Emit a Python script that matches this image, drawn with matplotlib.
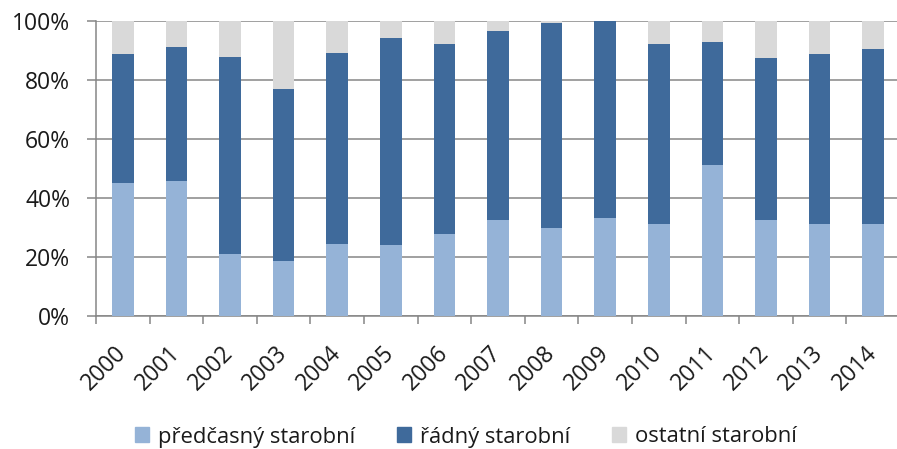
import matplotlib
matplotlib.use("Agg")
import matplotlib.pyplot as plt
import matplotlib.patches as mpatches
import numpy as np

years = ["2000", "2001", "2002", "2003", "2004", "2005", "2006", "2007",
         "2008", "2009", "2010", "2011", "2012", "2013", "2014"]
# shares in %
predcasny = [45.2, 45.8, 21.0, 18.6, 24.5, 24.1, 27.7, 32.5, 29.9, 33.3, 31.3, 51.3, 32.7, 31.3, 31.3]
radny = [43.6, 45.2, 66.8, 58.4, 64.7, 70.2, 64.5, 63.9, 69.4, 66.5, 60.9, 41.6, 54.8, 57.3, 59.1]
ostatni = [11.2, 9.0, 12.2, 23.0, 10.8, 5.7, 7.8, 3.6, 0.7, 0.2, 7.8, 7.1, 12.5, 11.4, 9.6]

series_names = ["předčasný starobní", "řádný starobní", "ostatní starobní"]
colors = ["#95B3D7", "#3F6A9B", "#D9D9D9"]

plt.rcParams['font.family'] = ['Open Sans', 'DejaVu Sans']

fig = plt.figure(figsize=(8.97, 4.49), dpi=100)
ax = fig.add_axes([96/897, 1 - 316.3/449, 804/897, (316.3 - 20.7)/449])

x = np.arange(len(years))
w = 0.4
ax.bar(x, predcasny, w, color=colors[0], zorder=3)
ax.bar(x, radny, w, bottom=predcasny, color=colors[1], zorder=3)
bottom3 = np.array(predcasny) + np.array(radny)
ax.bar(x, ostatni, w, bottom=bottom3, color=colors[2], zorder=3)

ax.set_xlim(-0.5, len(years) - 0.5)
ax.set_ylim(0, 100)
ax.set_yticks(np.arange(0, 101, 20))
ax.set_yticklabels([f"{v}%" for v in range(0, 101, 20)])
ax.yaxis.grid(True, color="#868686", linewidth=1.1, zorder=0)
ax.set_axisbelow(True)

ax.set_xticks(np.arange(-0.5, len(years), 1.0), minor=False)
ax.set_xticklabels([])
ax.set_xticks(x, minor=True)
ax.set_xticklabels(years, minor=True, rotation=45, ha='right', va='center',
                   rotation_mode='anchor', fontsize=16.5, color="#1a1a1a")
ax.tick_params(axis='x', which='minor', length=0, pad=24)
ax.tick_params(axis='x', which='major', length=6, width=1.1, color="#868686", direction='out')
ax.tick_params(axis='y', length=6.5, width=1.1, color="#868686", pad=12, labelsize=16.5,
               labelcolor="#1a1a1a")

for s in ['top', 'right']:
    ax.spines[s].set_visible(False)
for s in ['left', 'bottom']:
    ax.spines[s].set_color("#868686")
    ax.spines[s].set_linewidth(1.1)

handles = [mpatches.Patch(color=c, label=n) for c, n in zip(colors, series_names)]
leg = fig.legend(handles=handles, loc='center', bbox_to_anchor=(466/897, 1 - 437/449),
                 ncol=3, frameon=False, fontsize=15.8, handlelength=0.65, handleheight=0.65,
                 handletextpad=0.4, columnspacing=1.9)
for t in leg.get_texts():
    t.set_color("#1a1a1a")

fig.savefig("out.png", dpi=100)
